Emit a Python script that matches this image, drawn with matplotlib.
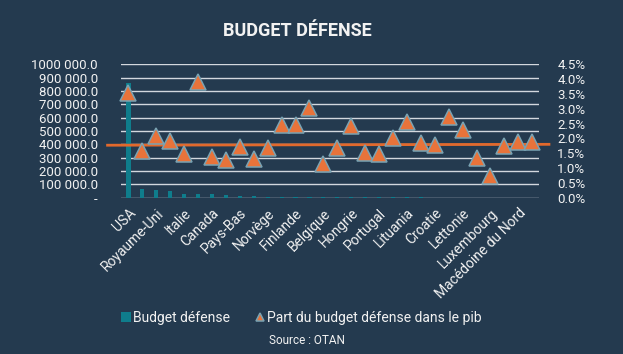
import numpy as np
import matplotlib.pyplot as plt

plt.rcParams['font.family'] = ['Roboto', 'DejaVu Sans']

# pays (un libellé sur deux est affiché sur l'axe)
pays = ['USA', 'Allemagne', 'Royaume-Uni', 'France', 'Italie', 'Pologne',
        'Canada', 'Espagne', 'Pays-Bas', 'Turquie', 'Norvège', 'Roumanie',
        'Finlande', 'Grèce', 'Belgique', 'Danemark', 'Hongrie', 'Tchéquie',
        'Portugal', 'Slovaquie', 'Lituania', 'Bulgarie', 'Croatie', 'Estonie',
        'Lettonie', 'Slovénie', 'Luxembourg', 'Albanie', 'Macédoine du Nord',
        'Monténégro']
# budget défense (millions $)
budget = [860000, 62000, 61000, 52000, 27000, 26000, 25000, 18000, 14000, 12000,
          8800, 8500, 7300, 7600, 7100, 6500, 4700, 4700, 4000, 2600,
          2000, 1700, 1400, 1000, 900, 900, 600, 400, 300, 100]
# part du budget défense dans le pib (%)
part_pib = [3.52, 1.58, 2.07, 1.90, 1.46, 3.89, 1.38, 1.26, 1.70, 1.31,
            1.67, 2.44, 2.45, 3.01, 1.13, 1.66, 2.43, 1.50, 1.48, 2.03,
            2.54, 1.84, 1.79, 2.73, 2.27, 1.34, 0.72, 1.76, 1.87, 1.87]
# ligne de référence orange
ligne_x = [-1.5, 30.2]
ligne_y = [1.77, 1.80]

fond = '#243a4f'
texte = '#f2f2f2'

fig = plt.figure(figsize=(6.23, 3.54), dpi=100, facecolor=fond)
ax = fig.add_axes([0.195, 0.4415, 0.6705, 0.377])
ax.set_facecolor(fond)
x = np.arange(len(pays))

ax.bar(x, budget, width=0.3, color='#0f7d8c', zorder=2, label='Budget défense')
ax.set_ylim(0, 1000000)
ax.set_xlim(-0.5, len(pays) - 0.5)
ax.set_yticks(np.arange(0, 1000001, 100000))
ax.set_yticklabels(['-' if v == 0 else '%d %03d.0' % (v // 1000, v % 1000)
                    for v in range(0, 1000001, 100000)])
ax.grid(axis='y', color='#d3d8de', linewidth=1.0, zorder=0)
ax.set_axisbelow(True)
ax.set_xticks(x[::2])
ax.set_xticklabels(pays[::2], rotation=45, ha='right', va='top',
                   rotation_mode='anchor')
ax.tick_params(axis='x', length=0, pad=6, labelsize=10, colors=texte)
ax.tick_params(axis='y', length=0, pad=17, labelsize=9.5, colors=texte)
for s in ax.spines.values():
    s.set_visible(False)

ax2 = ax.twinx()
ax2.plot(ligne_x, ligne_y, color='#e2692c', linewidth=2, clip_on=False, zorder=2)
ax2.plot(x, part_pib, linestyle='none', marker='^', markersize=11,
         markerfacecolor='#e8733a', markeredgecolor='#7aa3b3',
         markeredgewidth=1.1, zorder=3, clip_on=False,
         label='Part du budget défense dans le pib')
ax2.set_ylim(0, 4.5)
ax2.set_yticks(np.arange(0, 4.51, 0.5))
ax2.set_yticklabels(['%.1f%%' % v for v in np.arange(0, 4.51, 0.5)])
ax2.tick_params(axis='y', length=0, pad=13, labelsize=9.5, colors=texte)
for s in ax2.spines.values():
    s.set_visible(False)

fig.text(0.478, 0.913, 'BUDGET DÉFENSE', ha='center', va='center',
         fontsize=13, fontweight='bold', color=texte)

h1, l1 = ax.get_legend_handles_labels()
h2, l2 = ax2.get_legend_handles_labels()
leg = fig.legend(h1 + h2, l1 + l2, loc='center', bbox_to_anchor=(0.484, 0.1017),
                 ncol=2, frameon=False, fontsize=10, labelcolor=texte,
                 handlelength=0.7, handleheight=0.7, handletextpad=0.15,
                 columnspacing=1.8, markerscale=0.55)
fig.text(0.493, 0.037, 'Source : OTAN', ha='center', va='center',
         fontsize=8.5, color=texte)

fig.savefig('out.png', dpi=100, facecolor=fond)
